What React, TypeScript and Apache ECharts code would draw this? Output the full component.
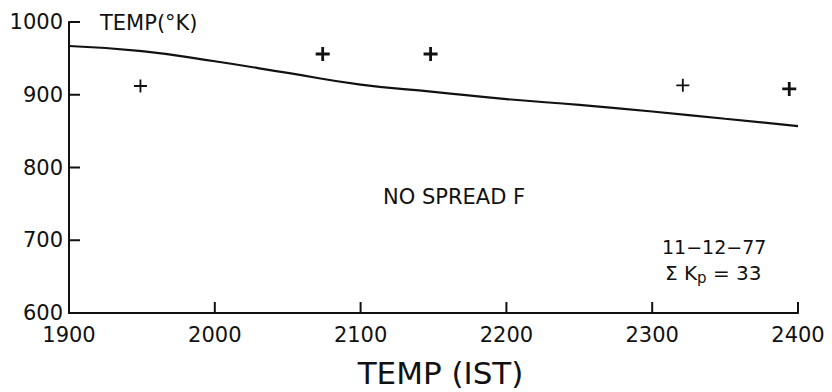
import React, { useEffect, useRef } from "react";
import * as echarts from "echarts";

const curveTimes = [1900, 1950, 2000, 2050, 2100, 2150, 2200, 2250, 2300, 2350, 2400];
const curveTemps = [967, 960, 946, 930, 914, 904, 894, 886, 877, 867, 857];
const pointTimes = [1949, 2074, 2148, 2321, 2394];
const pointTemps = [912, 956, 956, 913, 908];
const pointBold = [false, true, true, false, true];
const xTicks = [1900, 2000, 2100, 2200, 2300, 2400];
const yTicks = [600, 700, 800, 900, 1000];

const FONT = "DejaVu Sans";
const PLUS = "path://M4,0 H6 V4 H10 V6 H6 V10 H4 V6 H0 V4 H4 Z";
const PLUS_THIN = "path://M4.3,0 H5.7 V4.3 H10 V5.7 H5.7 V10 H4.3 V5.7 H0 V4.3 H4.3 Z";
const TICK_LEN = 11;
const TICK_W = 2;

export default function App() {
  const ref = useRef<HTMLDivElement>(null);
  useEffect(() => {
    if (!ref.current) return;
    const chart = echarts.init(ref.current, null, { renderer: "svg" });
    chart.setOption({
      animation: false,
      backgroundColor: "#ffffff",
      grid: { left: 69, top: 22, right: 34, bottom: 79, containLabel: false, outerBoundsMode: "none" },
      xAxis: {
        type: "value",
        min: xTicks[0],
        max: xTicks[xTicks.length - 1],
        interval: 100,
        name: "TEMP (IST)",
        nameLocation: "middle",
        nameGap: 44,
        nameTextStyle: { color: "#111", fontFamily: FONT, fontSize: 31, padding: [0, 0, 0, 14] },
        axisLine: { show: true, lineStyle: { color: "#111", width: 2 } },
        axisTick: { show: false },
        axisLabel: { show: true, color: "#111", fontFamily: FONT, fontSize: 21, margin: 11, formatter: (v: number) => String(v) },
        splitLine: { show: false },
      },
      yAxis: {
        type: "value",
        min: yTicks[0],
        max: yTicks[yTicks.length - 1],
        interval: 100,
        axisLine: { show: true, lineStyle: { color: "#111", width: 2 } },
        axisTick: { show: false },
        axisLabel: { show: true, color: "#111", fontFamily: FONT, fontSize: 21, margin: 6, formatter: (v: number) => String(v) },
        splitLine: { show: false },
      },
      graphic: [
        { type: "text", x: 100, y: 23, style: { text: "TEMP(°K)", font: `21px "${FONT}"`, fill: "#111", verticalAlign: "middle" } },
        { type: "text", x: 383, y: 197, style: { text: "NO SPREAD F", font: `21px "${FONT}"`, fill: "#111", verticalAlign: "middle" } },
        { type: "text", x: 662, y: 247, style: { text: "11−12−77", font: `19px "${FONT}"`, fill: "#111", verticalAlign: "middle" } },
        {
          type: "text",
          x: 665,
          y: 273,
          style: {
            text: "Σ K{s|p} = 33",
            font: `20px "${FONT}"`,
            fill: "#111",
            verticalAlign: "middle",
            rich: { s: { fontFamily: FONT, fontSize: 15, fill: "#111", padding: [9, 0, 0, 0] } },
          },
        },
      ],
      series: [
        {
          type: "scatter",
          name: "xticks",
          data: xTicks.slice(1).map((v) => [v, yTicks[0]]),
          symbol: "rect",
          symbolSize: [TICK_W, TICK_LEN],
          symbolOffset: [0, -TICK_LEN / 2],
          itemStyle: { color: "#111", opacity: 1 },
          clip: false,
          silent: true,
          z: 4,
        },
        {
          type: "scatter",
          name: "yticks",
          data: yTicks.slice(1).map((v) => [xTicks[0], v]),
          symbol: "rect",
          symbolSize: [TICK_LEN, TICK_W],
          symbolOffset: [TICK_LEN / 2, 0],
          itemStyle: { color: "#111", opacity: 1 },
          clip: false,
          silent: true,
          z: 4,
        },
        {
          type: "line",
          data: curveTimes.map((t, i) => [t, curveTemps[i]]),
          smooth: 0.5,
          showSymbol: false,
          lineStyle: { color: "#111", width: 2.2 },
          z: 2,
        },
        {
          type: "scatter",
          data: pointTimes.map((t, i) => ({
            value: [t, pointTemps[i]],
            symbol: pointBold[i] ? PLUS : PLUS_THIN,
            symbolSize: pointBold[i] ? 14 : 13,
          })),
          itemStyle: { color: "#111", opacity: 1 },
          z: 3,
        },
      ],
    });
    return () => chart.dispose();
  }, []);
  return <div ref={ref} style={{ position: "absolute", left: 0, top: 0, width: 832, height: 392 }} />;
}
